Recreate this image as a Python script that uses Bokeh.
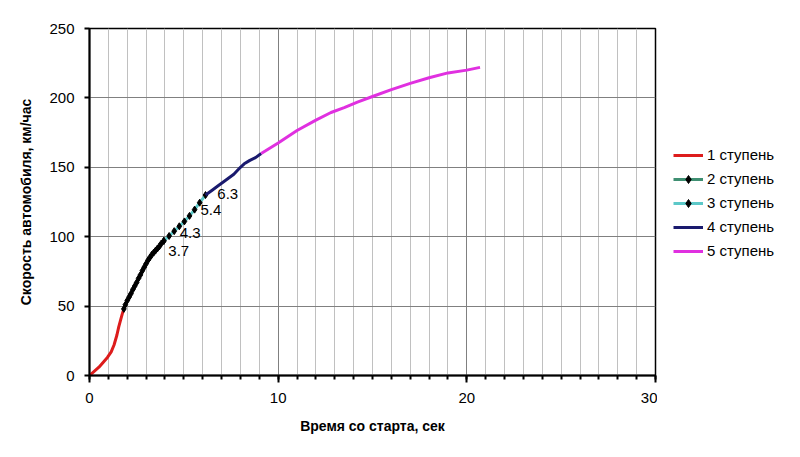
from bokeh.plotting import figure
from bokeh.layouts import row
from bokeh.models import SingleIntervalTicker, Legend, LegendItem
from bokeh.core.properties import value
from bokeh.embed import file_html
from bokeh.resources import INLINE

# ---- data (time, s ; speed, km/h) ----
g1_t = [0.0, 0.5, 0.95, 1.15, 1.3, 1.45, 1.55, 1.65, 1.73, 1.82]
g1_v = [0.0, 6.0, 13.0, 17.0, 22.0, 29.0, 35.0, 40.0, 44.0, 48.0]

g2_t = [1.82, 1.9, 2.0, 2.1, 2.2, 2.3, 2.4, 2.5, 2.6, 2.7, 2.8, 2.9, 3.0,
        3.1, 3.2, 3.3, 3.4, 3.5, 3.6, 3.7, 3.8, 3.94]
g2_v = [48.0, 51.0, 54.0, 56.5, 59.0, 62.0, 64.5, 67.0, 70.0, 72.5, 75.5,
        78.0, 80.5, 83.0, 85.0, 87.0, 88.5, 90.0, 91.5, 93.0, 95.0, 97.0]

g3_t = [3.94, 4.22, 4.49, 4.76, 5.03, 5.30, 5.57, 5.84, 6.15]
g3_v = [97.0, 100.5, 104.0, 107.5, 111.0, 115.0, 119.5, 124.5, 130.0]

g4_t = [6.15, 6.5, 6.8, 7.2, 7.65, 8.0, 8.2, 8.5, 8.8, 9.1]
g4_v = [130.0, 133.5, 136.5, 140.5, 145.0, 150.0, 152.5, 155.0, 157.0, 160.0]

g5_t = [9.1, 10.0, 11.0, 12.0, 12.8, 13.5, 14.2, 15.0, 16.0, 17.0, 18.0, 19.0, 20.0, 20.7]
g5_v = [160.0, 167.5, 176.5, 184.0, 189.5, 193.0, 197.0, 201.0, 206.0, 210.5, 214.5, 218.0, 220.0, 222.0]

gear_labels = ["1 ступень", "2 ступень", "3 ступень", "4 ступень", "5 ступень"]
gear_colors = ["#DD1C1C", "#3F8F72", "#5CC8C8", "#1A1A6E", "#E030E0"]

shift_t = [3.7, 4.3, 5.4, 6.3]
shift_v = [90.0, 103.0, 119.0, 131.0]
shift_text = ["3.7", "4.3", "5.4", "6.3"]

x_ticks_interval = 10
y_ticks_interval = 50

FONT = "Liberation Sans"
LW = 3
NAN = float("nan")

p = figure(frame_width=566, frame_height=347, x_range=(0, 30), y_range=(0, 250),
           output_backend="svg", toolbar_location=None,
           min_border_left=89, min_border_top=28, min_border_bottom=70, min_border_right=2,
           background_fill_color="white", border_fill_color="white")

p.outline_line_color = "black"
p.outline_line_width = 1.5

p.xaxis.ticker = SingleIntervalTicker(interval=x_ticks_interval, num_minor_ticks=10)
p.yaxis.ticker = SingleIntervalTicker(interval=y_ticks_interval, num_minor_ticks=0)

for ax in (p.xaxis[0], p.yaxis[0]):
    ax.axis_line_color = "black"
    ax.axis_line_width = 2
    ax.major_tick_line_color = "black"
    ax.major_tick_line_width = 2
    ax.major_tick_in = 0
    ax.major_label_text_font = FONT
    ax.major_label_text_font_size = "15px"
    ax.major_label_text_color = "black"
    ax.axis_label_text_font = FONT
    ax.axis_label_text_font_size = "14px"
    ax.axis_label_text_font_style = "bold"
    ax.axis_label_text_color = "black"

p.xaxis.major_tick_out = 7
p.xaxis.minor_tick_out = 4
p.xaxis.minor_tick_in = 0
p.xaxis.minor_tick_line_color = "black"
p.xaxis.minor_tick_line_width = 2
p.xaxis.major_label_standoff = 10
p.xaxis.axis_label = "Время со старта, сек"
p.xaxis.axis_label_standoff = 12

p.yaxis.major_tick_out = 5
p.yaxis.minor_tick_line_color = None
p.yaxis.major_label_standoff = 10
p.yaxis.axis_label = "Скорость автомобиля, км/час"
p.yaxis.axis_label_standoff = 12

p.xgrid.grid_line_color = "#808080"
p.xgrid.minor_grid_line_color = "#C0C0C0"
p.ygrid.grid_line_color = "#808080"

p.line(g1_t, g1_v, line_color=gear_colors[0], line_width=LW)
p.line(g2_t, g2_v, line_color=gear_colors[1], line_width=LW)
p.scatter(g2_t, g2_v, marker="diamond", size=7, fill_color="black", line_color="black")
p.line(g3_t, g3_v, line_color=gear_colors[2], line_width=LW)
p.scatter(g3_t, g3_v, marker="diamond", size=7, fill_color="black", line_color="black")
p.line(g4_t, g4_v, line_color=gear_colors[3], line_width=LW)
p.line(g5_t, g5_v, line_color=gear_colors[4], line_width=LW)

p.text(x=shift_t, y=shift_v, text=shift_text, x_offset=9,
       text_font=value(FONT), text_font_size="15px", text_color="black",
       text_baseline="middle", text_align="left")

# ---- legend panel (separate figure to the right) ----
lp = figure(width=140, height=447, output_backend="svg", toolbar_location=None,
            min_border=0, min_border_left=16, x_axis_type=None, y_axis_type=None,
            background_fill_color="white", border_fill_color="white")
lp.outline_line_color = None
lp.grid.visible = False

items = []
for i, (lab, col) in enumerate(zip(gear_labels, gear_colors)):
    rs = [lp.line([NAN], [NAN], line_color=col, line_width=LW)]
    if i in (1, 2):
        rs.append(lp.scatter([NAN], [NAN], marker="diamond", size=7,
                             fill_color="black", line_color="black"))
    items.append(LegendItem(label=lab, renderers=rs))

legend = Legend(items=items, location="center_left")
legend.border_line_color = None
legend.background_fill_alpha = 0
legend.margin = 0
legend.padding = 8
legend.glyph_width = 30
legend.glyph_height = 20
legend.label_height = 20
legend.spacing = 4
legend.label_standoff = 4
legend.label_text_font = FONT
legend.label_text_font_size = "15px"
legend.label_text_color = "black"
lp.add_layout(legend, "center")

layout = row(p, lp)
open("out.html", "w").write(file_html(layout, INLINE))
